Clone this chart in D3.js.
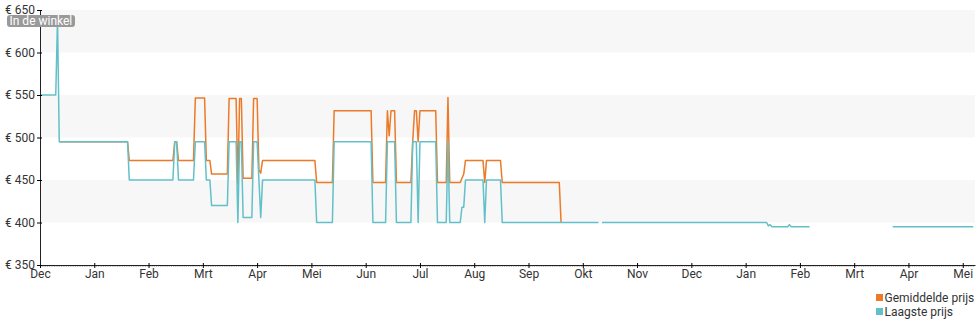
<!DOCTYPE html>
<html lang="nl">
<head>
<meta charset="utf-8">
<script src="https://cdn.jsdelivr.net/npm/d3@7/dist/d3.min.js"></script>
<style>
  html, body { margin: 0; padding: 0; background: #fff; }
  svg { display: block; font-family: Roboto, "Noto Sans", sans-serif; }
</style>
</head>
<body>
<svg id="chart" width="980" height="325"></svg>
<script>
// Maandlabels langs de tijdas (dec 2023 t/m mei 2025)
const monthLabels = ["Dec","Jan","Feb","Mrt","Apr","Mei","Jun","Jul","Aug","Sep","Okt","Nov","Dec","Jan","Feb","Mrt","Apr","Mei"];
const priceTicks = [350, 400, 450, 500, 550, 600, 650];
const seriesNames = ["Gemiddelde prijs", "Laagste prijs"];

// Gemiddelde prijs per datum
const gemiddeldePrijs = [
  ["2023-12-12", 495], ["2024-01-20", 495], ["2024-01-21", 473], ["2024-02-14", 473],
  ["2024-02-15", 495], ["2024-02-16", 495], ["2024-02-17", 473], ["2024-02-25", 473],
  ["2024-02-26", 546.5], ["2024-03-02", 546.5], ["2024-03-03", 473], ["2024-03-05", 473],
  ["2024-03-06", 457], ["2024-03-15", 457], ["2024-03-16", 546], ["2024-03-20", 546],
  ["2024-03-21", 445], ["2024-03-22", 546], ["2024-03-23", 546], ["2024-03-24", 452],
  ["2024-03-29", 452], ["2024-03-30", 546], ["2024-04-01", 546], ["2024-04-02", 462],
  ["2024-04-03", 458], ["2024-04-04", 473], ["2024-05-03", 473], ["2024-05-04", 447],
  ["2024-05-13", 447], ["2024-05-14", 531.5], ["2024-06-04", 531.5], ["2024-06-05", 447],
  ["2024-06-12", 447], ["2024-06-13", 531.5], ["2024-06-14", 502], ["2024-06-15", 531.5],
  ["2024-06-17", 531.5], ["2024-06-18", 447], ["2024-06-26", 447], ["2024-06-27", 495],
  ["2024-06-28", 531.5], ["2024-06-29", 531.5], ["2024-06-30", 495], ["2024-07-01", 531.5],
  ["2024-07-10", 531.5], ["2024-07-11", 447], ["2024-07-16", 447], ["2024-07-17", 547],
  ["2024-07-18", 447], ["2024-07-24", 447], ["2024-07-25", 452], ["2024-07-26", 457],
  ["2024-07-27", 473], ["2024-08-06", 473], ["2024-08-07", 447], ["2024-08-08", 473],
  ["2024-08-16", 473], ["2024-08-17", 447], ["2024-09-18", 447], ["2024-09-19", 400]
];

// Laagste prijs per datum (null = geen aanbod)
const laagstePrijs = [
  ["2023-12-01", 550], ["2023-12-10", 550], ["2023-12-11", 640], ["2023-12-12", 495],
  ["2024-01-20", 495], ["2024-01-21", 450], ["2024-02-14", 450], ["2024-02-15", 495],
  ["2024-02-16", 495], ["2024-02-17", 450], ["2024-02-25", 450], ["2024-02-26", 495],
  ["2024-03-02", 495], ["2024-03-03", 450], ["2024-03-05", 450], ["2024-03-06", 420],
  ["2024-03-15", 420], ["2024-03-16", 495], ["2024-03-20", 495], ["2024-03-21", 400],
  ["2024-03-22", 495], ["2024-03-23", 495], ["2024-03-24", 406], ["2024-03-29", 406],
  ["2024-03-30", 495], ["2024-04-01", 495], ["2024-04-02", 450], ["2024-04-03", 406],
  ["2024-04-04", 450], ["2024-05-03", 450], ["2024-05-04", 400], ["2024-05-13", 400],
  ["2024-05-14", 495], ["2024-06-04", 495], ["2024-06-05", 400], ["2024-06-12", 400],
  ["2024-06-13", 495], ["2024-06-17", 495], ["2024-06-18", 400], ["2024-06-26", 400],
  ["2024-06-27", 495], ["2024-06-29", 495], ["2024-06-30", 400], ["2024-07-01", 495],
  ["2024-07-10", 495], ["2024-07-11", 400], ["2024-07-16", 400], ["2024-07-17", 495],
  ["2024-07-18", 400], ["2024-07-24", 400], ["2024-07-25", 418], ["2024-07-26", 418],
  ["2024-07-27", 450], ["2024-08-06", 450], ["2024-08-07", 400], ["2024-08-08", 450],
  ["2024-08-16", 450], ["2024-08-17", 400], ["2024-10-10", 400], ["2024-10-11", null],
  ["2024-10-12", 400], ["2025-01-13", 400], ["2025-01-14", 396], ["2025-01-15", 397.5],
  ["2025-01-16", 395], ["2025-01-25", 395], ["2025-01-26", 397.5], ["2025-01-27", 395],
  ["2025-02-06", 395], ["2025-02-07", null], ["2025-03-23", 395], ["2025-05-07", 395]
];

const parse = d3.timeParse("%Y-%m-%d");
const toPoints = arr => arr.map(([d, v]) => ({ date: parse(d), value: v }));

const svg = d3.select("#chart");
const plotLeft = 40, plotRight = 975, plotTop = 10, plotBottom = 265;

// Elke maand krijgt dezelfde breedte op de as
const startDate = new Date(2023, 11, 1);
const endDate = new Date(2025, 4, 8);
const monthStarts = d3.timeMonth.range(startDate, new Date(2025, 4, 2));
const tailFrac = d3.timeDay.count(monthStarts[monthStarts.length - 1], endDate) / 31;
const monthW = (plotRight - plotLeft) / (monthStarts.length - 1 + tailFrac);
const x = d3.scaleTime()
  .domain([...monthStarts, endDate])
  .range([...monthStarts.map((d, i) => plotLeft + i * monthW), plotRight]);

const y = d3.scaleLinear().domain([350, 650]).range([plotBottom, plotTop]);

// Afwisselende achtergrondbanden
const bands = [];
for (let i = 1; i + 1 < priceTicks.length; i += 2) bands.push([priceTicks[i], priceTicks[i + 1]]);
svg.append("g").selectAll("rect").data(bands).join("rect")
  .attr("x", plotLeft).attr("width", plotRight - plotLeft)
  .attr("y", d => y(d[1])).attr("height", d => y(d[0]) - y(d[1]))
  .attr("fill", "#f7f7f7");

const colors = ["#ec7a28", "#62c0c9"];
const line = d3.line()
  .defined(d => d.value != null)
  .x(d => x(d.date)).y(d => y(d.value));

[gemiddeldePrijs, laagstePrijs].forEach((s, i) => {
  svg.append("path")
    .datum(toPoints(s))
    .attr("fill", "none")
    .attr("stroke", colors[i])
    .attr("stroke-width", 1.5)
    .attr("stroke-linejoin", "round")
    .attr("d", line);
});

// Dagstreepjes onder de tijdas
svg.append("g")
  .attr("transform", `translate(0,${plotBottom})`)
  .call(d3.axisBottom(x).tickValues(d3.timeDay.range(startDate, endDate)).tickSize(2).tickFormat(""))
  .call(g => g.select(".domain").remove())
  .call(g => g.selectAll("line").attr("stroke", "#bbb"));

// Tijdas
const xAxis = svg.append("g")
  .attr("transform", `translate(0,${plotBottom})`)
  .call(d3.axisBottom(x).tickValues(monthStarts).tickFormat((d, i) => monthLabels[i])
    .tickSizeInner(3).tickSizeOuter(0).tickPadding(1));
xAxis.selectAll(".tick line").attr("y1", -2);

// Prijsas
const yAxis = svg.append("g")
  .attr("transform", `translate(${plotLeft},0)`)
  .call(d3.axisLeft(y).tickValues(priceTicks).tickFormat(d => "€ " + d)
    .tickSizeInner(3).tickSizeOuter(0).tickPadding(2));
yAxis.selectAll(".tick line").attr("x1", -3).attr("x2", 2);

svg.selectAll(".tick text").attr("font-size", 12).attr("fill", "#333")
  .attr("font-family", "Roboto, sans-serif");
svg.selectAll(".domain").attr("stroke", "#222");

// Label linksboven
const tag = svg.append("g").attr("transform", "translate(7,15)");
tag.append("rect").attr("width", 68).attr("height", 12).attr("rx", 3).attr("fill", "#999");
tag.append("text").attr("x", 2.5).attr("y", 10).attr("font-size", 12).attr("fill", "#fff")
  .text("In de winkel");

// Legenda
const legend = svg.append("g").attr("transform", "translate(876,293)");
seriesNames.forEach((name, i) => {
  const row = legend.append("g").attr("transform", `translate(0,${i * 14})`);
  row.append("rect").attr("width", 7).attr("height", 7).attr("y", 1).attr("fill", colors[i]);
  row.append("text").attr("x", 8.5).attr("y", 9).attr("font-size", 12).attr("fill", "#333").text(name);
});
</script>
</body>
</html>
